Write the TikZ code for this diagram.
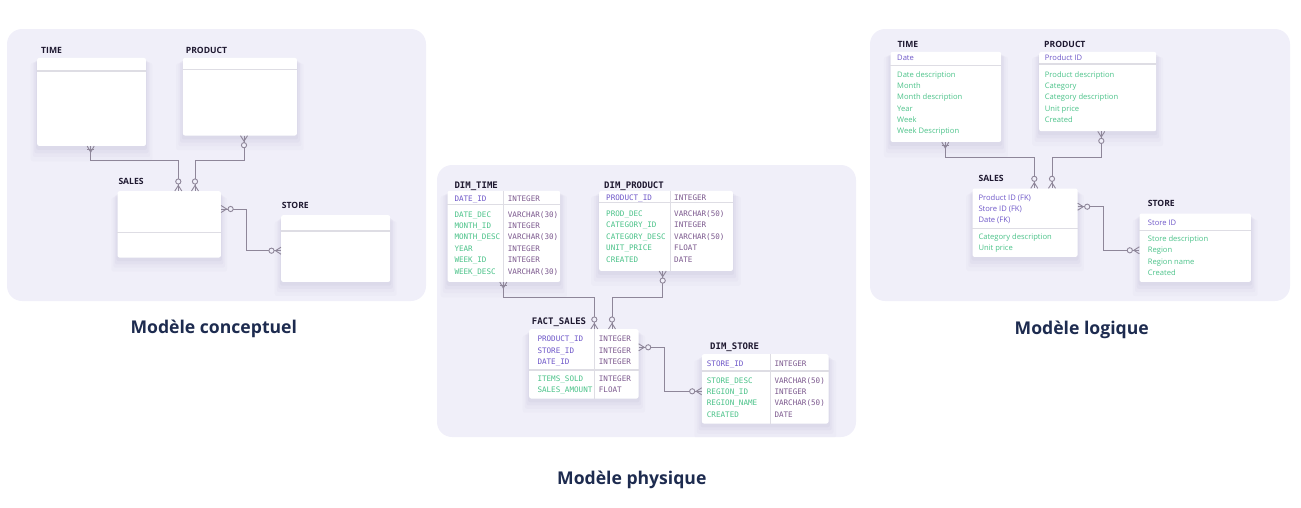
\documentclass[tikz,border=0pt]{standalone}
\usepackage{fontspec}
\setmainfont{Open Sans}
\newfontfamily\codefont{DejaVu Sans Mono}
\usetikzlibrary{calc,shadows}

\definecolor{panelbg}{RGB}{240,239,249}
\definecolor{linkgray}{RGB}{142,134,153}
\definecolor{keypurple}{RGB}{111,88,201}
\definecolor{attrgreen}{RGB}{76,195,138}
\definecolor{typeplum}{RGB}{125,90,143}
\definecolor{headink}{RGB}{30,24,48}
\definecolor{titlenavy}{RGB}{29,43,79}
\definecolor{rulegray}{RGB}{222,221,228}
\definecolor{shadeink}{RGB}{70,60,120}

\tikzset{
  panel/.style={fill=panelbg, rounded corners=15pt},
  softshadow/.style={
    general shadow={fill=shadeink, opacity=0.02, shadow yshift=-9pt, shadow scale=1.12},
    general shadow={fill=shadeink, opacity=0.025, shadow yshift=-7pt, shadow scale=1.08},
    general shadow={fill=shadeink, opacity=0.03, shadow yshift=-5pt, shadow scale=1.05},
    general shadow={fill=shadeink, opacity=0.035, shadow yshift=-3pt, shadow scale=1.02}},
  entity/.style={fill=white, rounded corners=2pt, inner sep=0pt, anchor=north west, softshadow},
  sepline/.style={draw=rulegray, line width=1.3pt},
  colline/.style={draw=rulegray, line width=0.8pt},
  link/.style={draw=linkgray, line width=0.9pt},
  mtitle/.style={font=\bfseries\fontsize{17.6}{20}\selectfont, text=titlenavy, anchor=base, inner sep=0pt},
  tname/.style={font=\bfseries\fontsize{8.6}{10}\selectfont, text=headink, anchor=west, inner sep=0pt, text height=6.1pt, text depth=0pt},
  cname/.style={font=\codefont\bfseries\fontsize{9}{10}\selectfont, text=headink, anchor=west, inner sep=0pt, text height=6.6pt, text depth=0pt},
  row/.style={font=\fontsize{7.6}{9}\selectfont, anchor=west, inner sep=0pt, text height=5.4pt, text depth=0pt},
  coderow/.style={font=\codefont\fontsize{7.6}{9}\selectfont, anchor=west, inner sep=0pt, text height=5.5pt, text depth=0pt},
  logkey/.style={row, text=keypurple},
  logattr/.style={row, text=attrgreen},
  codekey/.style={coderow, text=keypurple},
  codeattr/.style={coderow, text=attrgreen},
  codetype/.style={coderow, text=typeplum},
  zeromany/.pic={\draw[link] (-3.5,0) -- (0,5.5) -- (3.5,0); \draw[link, fill=panelbg] (0,9.5) circle (2.6pt);},
  onemany/.pic={\draw[link] (-3.5,0) -- (0,6) -- (3.5,0); \draw[link] (-3.5,3) -- (3.5,3);}
}

\begin{document}
\begin{tikzpicture}[x=1pt, y=-1pt]
  \useasboundingbox (0,0) rectangle (1301,507);

  % the three panels and their titles
  \fill[panel] (7,29) rectangle (426,301);
  \fill[panel] (437,165) rectangle (856,437);
  \fill[panel] (870,29) rectangle (1290,301);
  \node[mtitle] (tconc) at (213.8,333.5) {Modèle conceptuel};
  \node[mtitle] (tphys) at (631.8,484.5) {Modèle physique};
  \node[mtitle] (tlog) at (1081.7,334.3) {Modèle logique};

  % conceptual model
  \node[tname] (ctimel) at (41,50.7) {TIME};
  \node[entity, minimum width=108.7pt, minimum height=88pt] (ctime) at (37,57.7) {};
  \draw[sepline] ($(ctime.north west)+(0,13.3)$) -- ($(ctime.north east)+(0,13.3)$);
  \node[tname] (cprodl) at (185.7,50.7) {PRODUCT};
  \node[entity, minimum width=114pt, minimum height=77.6pt] (cprod) at (182.7,57.7) {};
  \draw[sepline] ($(cprod.north west)+(0,11.6)$) -- ($(cprod.north east)+(0,11.6)$);
  \node[tname] (csalesl) at (118.3,181.7) {SALES};
  \node[entity, minimum width=103.4pt, minimum height=66.3pt] (csales) at (117.3,191) {};
  \draw[sepline] ($(csales.north west)+(0,41.7)$) -- ($(csales.north east)+(0,41.7)$);
  \node[tname] (cstorel) at (281.7,205.3) {STORE};
  \node[entity, minimum width=109pt, minimum height=66.7pt] (cstore) at (281,215) {};
  \draw[sepline] ($(cstore.north west)+(0,16)$) -- ($(cstore.north east)+(0,16)$);

  \draw[link] ($(ctime.south west)+(53.7,0)$) coordinate (c1a) -- ++(0,14.3) -| ($(csales.north west)+(61,0)$) coordinate (c1b);
  \draw[link] ($(cprod.south west)+(61.3,0)$) coordinate (c2a) -- ++(0,24.7) -| ($(csales.north west)+(77.7,0)$) coordinate (c2b);
  \draw[link] ($(csales.north east)+(0,18)$) coordinate (c3a) -- ++(25.3,0) |- ($(cstore.north west)+(0,35.7)$) coordinate (c3b);
  \pic at (c1a) {onemany};
  \pic[rotate=180] at (c1b) {zeromany};
  \pic at (c2a) {zeromany};
  \pic[rotate=180] at (c2b) {zeromany};
  \pic[rotate=90] at (c3a) {zeromany};
  \pic[rotate=-90] at (c3b) {zeromany};

  % physical model
  \node[cname] (ptimel) at (454.3,185) {DIM\_TIME};
  \node[entity, minimum width=112.7pt, minimum height=91pt] (ptime) at (447.3,190.7) {};
  \draw[sepline] ($(ptime.north west)+(0,13.6)$) -- ($(ptime.north east)+(0,13.6)$);
  \draw[colline] ($(ptime.north west)+(56,0)$) -- ($(ptime.south west)+(56,0)$);
  \node[codekey] (ptk) at (454.3,198.7) {DATE\_ID};
  \node[codetype] (ptkt) at (507.7,198.7) {INTEGER};
  \foreach \f/\t [count=\i from 0] in {DATE\_DEC/VARCHAR(30), MONTH\_ID/INTEGER, MONTH\_DESC/VARCHAR(30), YEAR/INTEGER, WEEK\_ID/INTEGER, WEEK\_DESC/VARCHAR(30)} {
    \node[codeattr] (pta\i) at (454.3,214.3+11.4*\i) {\f};
    \node[codetype] (ptt\i) at (507.7,214.3+11.4*\i) {\t};
  }

  \node[cname] (pprodl) at (604,185) {DIM\_PRODUCT};
  \node[entity, minimum width=133.7pt, minimum height=80pt] (pprod) at (599,190.7) {};
  \draw[sepline] ($(pprod.north west)+(0,12)$) -- ($(pprod.north east)+(0,12)$);
  \draw[colline] ($(pprod.north west)+(71,0)$) -- ($(pprod.south west)+(71,0)$);
  \node[codekey] (ppk) at (606,197.7) {PRODUCT\_ID};
  \node[codetype] (ppkt) at (674,197.7) {INTEGER};
  \foreach \f/\t [count=\i from 0] in {PROD\_DEC/VARCHAR(50), CATEGORY\_ID/INTEGER, CATEGORY\_DESC/VARCHAR(50), UNIT\_PRICE/FLOAT, CREATED/DATE} {
    \node[codeattr] (ppa\i) at (606,213.7+11.4*\i) {\f};
    \node[codetype] (ppt\i) at (674,213.7+11.4*\i) {\t};
  }

  \node[cname] (psalesl) at (531.7,321) {FACT\_SALES};
  \node[entity, minimum width=109.3pt, minimum height=69.3pt] (psales) at (529,329) {};
  \draw[sepline] ($(psales.north west)+(0,41)$) -- ($(psales.north east)+(0,41)$);
  \draw[colline] ($(psales.north west)+(65.7,0)$) -- ($(psales.south west)+(65.7,0)$);
  \foreach \f [count=\i from 0] in {PRODUCT\_ID, STORE\_ID, DATE\_ID} {
    \node[codekey] (psk\i) at (537.3,339+11.4*\i) {\f};
    \node[codetype] (pskt\i) at (598.7,339+11.4*\i) {INTEGER};
  }
  \foreach \f/\t [count=\i from 0] in {ITEMS\_SOLD/INTEGER, SALES\_AMOUNT/FLOAT} {
    \node[codeattr] (psa\i) at (537.3,378.7+11.4*\i) {\f};
    \node[codetype] (pst\i) at (598.7,378.7+11.4*\i) {\t};
  }

  \node[cname] (pstorel) at (710,345.7) {DIM\_STORE};
  \node[entity, minimum width=126.6pt, minimum height=69.3pt] (pstore) at (701.7,354) {};
  \draw[sepline] ($(pstore.north west)+(0,17)$) -- ($(pstore.north east)+(0,17)$);
  \draw[colline] ($(pstore.north west)+(69,0)$) -- ($(pstore.south west)+(69,0)$);
  \node[codekey] (pok) at (706.7,364) {STORE\_ID};
  \node[codetype] (pokt) at (774.3,364) {INTEGER};
  \foreach \f/\t [count=\i from 0] in {STORE\_DESC/VARCHAR(50), REGION\_ID/INTEGER, REGION\_NAME/VARCHAR(50), CREATED/DATE} {
    \node[codeattr] (poa\i) at (706.7,380.3+11.4*\i) {\f};
    \node[codetype] (pot\i) at (774.3,380.3+11.4*\i) {\t};
  }

  \draw[link] ($(ptime.south west)+(56,0)$) coordinate (p1a) -- ++(0,15.3) -| ($(psales.north west)+(65.3,0)$) coordinate (p1b);
  \draw[link] ($(pprod.south west)+(63.7,0)$) coordinate (p2a) -- ++(0,26.3) -| ($(psales.north west)+(83,0)$) coordinate (p2b);
  \draw[link] ($(psales.north east)+(0,18.3)$) coordinate (p3a) -- ++(26,0) |- ($(pstore.north west)+(0,37.3)$) coordinate (p3b);
  \pic at (p1a) {onemany};
  \pic[rotate=180] at (p1b) {zeromany};
  \pic at (p2a) {zeromany};
  \pic[rotate=180] at (p2b) {zeromany};
  \pic[rotate=90] at (p3a) {zeromany};
  \pic[rotate=-90] at (p3b) {zeromany};

  % logical model
  \node[tname] (ltimel) at (897.3,44.3) {TIME};
  \node[entity, minimum width=110.7pt, minimum height=90pt] (ltime) at (890.3,51.7) {};
  \draw[sepline] ($(ltime.north west)+(0,13.6)$) -- ($(ltime.north east)+(0,13.6)$);
  \node[logkey] (ltk) at (897,58) {Date};
  \foreach \f [count=\i from 0] in {Date description, Month, Month description, Year, Week, Week Description}
    \node[logattr] (lta\i) at (897,74.3+11.35*\i) {\f};

  \node[tname] (lprodl) at (1044,44.3) {PRODUCT};
  \node[entity, minimum width=117pt, minimum height=79.3pt] (lprod) at (1039,51.7) {};
  \draw[sepline] ($(lprod.north west)+(0,12.3)$) -- ($(lprod.north east)+(0,12.3)$);
  \node[logkey] (lpk) at (1044.7,58) {Product ID};
  \foreach \f [count=\i from 0] in {Product description, Category, Category description, Unit price, Created}
    \node[logattr] (lpa\i) at (1044.7,74.3+11.35*\i) {\f};

  \node[tname] (lsalesl) at (978.3,178.7) {SALES};
  \node[entity, minimum width=105pt, minimum height=68.4pt] (lsales) at (972.3,188.3) {};
  \draw[sepline] ($(lsales.north west)+(0,40.4)$) -- ($(lsales.north east)+(0,40.4)$);
  \foreach \f [count=\i from 0] in {Product ID (FK), Store ID (FK), Date (FK)}
    \node[logkey] (lsk\i) at (978.3,197.3+11.35*\i) {\f};
  \foreach \f [count=\i from 0] in {Category description, Unit price}
    \node[logattr] (lsa\i) at (978.3,236.7+11.35*\i) {\f};

  \node[tname] (lstorel) at (1147.7,203) {STORE};
  \node[entity, minimum width=111.4pt, minimum height=68.4pt] (lstore) at (1139.3,213.3) {};
  \draw[sepline] ($(lstore.north west)+(0,17.4)$) -- ($(lstore.north east)+(0,17.4)$);
  \node[logkey] (lok) at (1147.7,222.3) {Store ID};
  \foreach \f [count=\i from 0] in {Store description, Region, Region name, Created}
    \node[logattr] (loa\i) at (1147.7,238.7+11.35*\i) {\f};

  \draw[link] ($(ltime.south west)+(55,0)$) coordinate (l1a) -- ++(0,15.3) -| ($(lsales.north west)+(62,0)$) coordinate (l1b);
  \draw[link] ($(lprod.south west)+(62.3,0)$) coordinate (l2a) -- ++(0,26) -| ($(lsales.north west)+(79.7,0)$) coordinate (l2b);
  \draw[link] ($(lsales.north east)+(0,18.4)$) coordinate (l3a) -- ++(26,0) |- ($(lstore.north west)+(0,37)$) coordinate (l3b);
  \pic at (l1a) {onemany};
  \pic[rotate=180] at (l1b) {zeromany};
  \pic at (l2a) {zeromany};
  \pic[rotate=180] at (l2b) {zeromany};
  \pic[rotate=90] at (l3a) {zeromany};
  \pic[rotate=-90] at (l3b) {zeromany};
\end{tikzpicture}
\end{document}
